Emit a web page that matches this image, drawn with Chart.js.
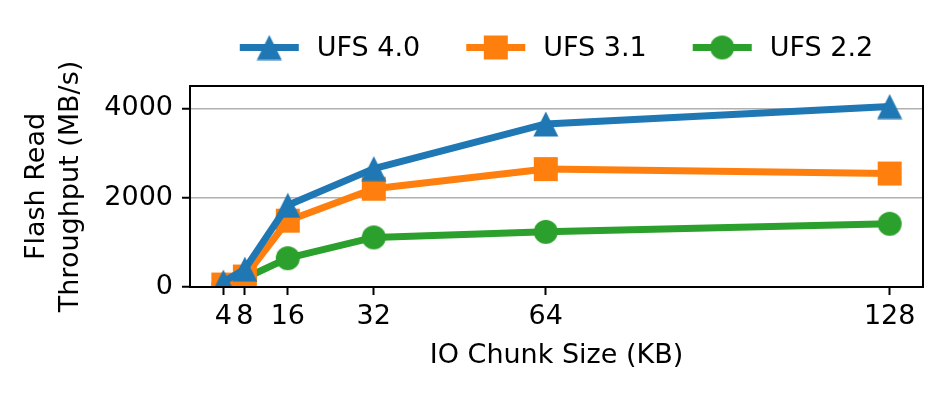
<!DOCTYPE html>
<html>
<head>
<meta charset="utf-8">
<script src="https://cdn.jsdelivr.net/npm/chart.js@4.4.1/dist/chart.umd.min.js"></script>
<style>
  html, body { margin: 0; padding: 0; background: #fff; }
  canvas { display: block; }
</style>
</head>
<body>
<canvas id="chart" width="947" height="395"></canvas>
<script>
// --- DATA ---
const chunkSizes = [4, 8, 16, 32, 64, 128];        // KB
const ufs40 = [110, 400, 1830, 2650, 3650, 4040];  // MB/s
const ufs31 = [55, 235, 1485, 2200, 2640, 2540];
const ufs22 = [30, 195, 645, 1110, 1235, 1415];
const xTicks = [4, 8, 16, 32, 64, 128];
const yTicks = [0, 2000, 4000];

const FONT = 'DejaVu Sans';
const BLUE = '#1f77b4', ORANGE = '#ff7f0e', GREEN = '#2ca02c';

// --- MARKERS (matplotlib-like shapes as images) ---
function makeMarker(shape, color) {
    const c = document.createElement('canvas');
    c.width = 26; c.height = 26;
    const g = c.getContext('2d');
    g.fillStyle = color;
    g.beginPath();
    if (shape === 'triangle') {
        g.moveTo(13, 0.5); g.lineTo(25.5, 25.5); g.lineTo(0.5, 25.5); g.closePath();
    } else if (shape === 'square') {
        g.rect(1, 1, 24, 24);
    } else {
        g.arc(13, 13, 12, 0, Math.PI * 2);
    }
    g.fill();
    return c;
}

function series(label, values, color, shape) {
    return {
        label: label,
        data: chunkSizes.map((x, i) => ({ x: x, y: values[i] })),
        borderColor: color,
        backgroundColor: color,
        borderWidth: 7,
        borderJoinStyle: 'round',
        pointStyle: makeMarker(shape, color),
        tension: 0
    };
}

// legend drawn like matplotlib: short line with marker, no frame
const lineLegend = {
    id: 'lineLegend',
    afterDraw(chart) {
        const ctx = chart.ctx;
        const area = chart.chartArea;
        const handle = 59, gapText = 18, gapItem = 46, y = 47.5;
        ctx.save();
        ctx.font = '27px "' + FONT + '"';
        const widths = chart.data.datasets.map(ds => ctx.measureText(ds.label).width);
        const total = widths.reduce((a, w) => a + handle + gapText + w, 0) + gapItem * (widths.length - 1);
        let x = (area.left + area.right) / 2 - total / 2;
        chart.data.datasets.forEach((ds, i) => {
            ctx.strokeStyle = ds.borderColor;
            ctx.lineWidth = 7;
            ctx.beginPath();
            ctx.moveTo(x, y); ctx.lineTo(x + handle, y);
            ctx.stroke();
            const img = ds.pointStyle;
            ctx.drawImage(img, x + handle / 2 - img.width / 2, y - img.height / 2);
            ctx.fillStyle = '#000';
            ctx.textBaseline = 'middle';
            ctx.textAlign = 'left';
            ctx.fillText(ds.label, x + handle + gapText, y + 1);
            x += handle + gapText + widths[i] + gapItem;
        });
        ctx.restore();
    }
};

// full axes frame on top of the lines
const frame = {
    id: 'frame',
    afterDatasetsDraw(chart) {
        const a = chart.chartArea;
        const ctx = chart.ctx;
        ctx.save();
        ctx.strokeStyle = '#000';
        ctx.lineWidth = 2;
        ctx.strokeRect(a.left, a.top, a.right - a.left, a.bottom - a.top);
        ctx.restore();
    }
};

Chart.defaults.font.family = FONT;
Chart.defaults.color = '#000';

new Chart(document.getElementById('chart'), {
    type: 'line',
    data: {
        datasets: [
            series('UFS 4.0', ufs40, BLUE, 'triangle'),
            series('UFS 3.1', ufs31, ORANGE, 'square'),
            series('UFS 2.2', ufs22, GREEN, 'circle')
        ]
    },
    options: {
        responsive: false,
        animation: false,
        events: [],
        devicePixelRatio: 1,
        layout: { padding: { top: 86, right: 24, left: 0, bottom: 0 } },
        plugins: { legend: { display: false }, tooltip: { enabled: false } },
        scales: {
            x: {
                type: 'linear',
                min: -2.2,
                max: 134.2,
                afterBuildTicks: s => { s.ticks = xTicks.map(v => ({ value: v })); },
                afterFit: s => { s.height = 108; },
                ticks: {
                    autoSkip: false,
                    maxRotation: 0,
                    padding: 6,
                    font: { size: 27 },
                    callback: v => String(v)
                },
                grid: {
                    drawOnChartArea: false,
                    tickLength: 8,
                    tickColor: '#000',
                    tickWidth: 2
                },
                border: { display: false },
                title: {
                    display: true,
                    text: 'IO Chunk Size (KB)',
                    font: { size: 27 },
                    padding: { top: 0, bottom: 23 }
                }
            },
            y: {
                min: 0,
                max: 4500,
                afterBuildTicks: s => { s.ticks = yTicks.map(v => ({ value: v })); },
                afterFit: s => { s.width = 190; },
                ticks: {
                    padding: 9,
                    font: { size: 27 },
                    callback: v => String(v)
                },
                grid: {
                    color: '#b0b0b0',
                    lineWidth: 1.5,
                    tickLength: 8,
                    tickColor: '#000',
                    tickWidth: 2
                },
                border: { display: false },
                title: {
                    display: true,
                    text: ['Flash Read', 'Throughput (MB/s)'],
                    font: { size: 27, lineHeight: 1.26 },
                    padding: { top: 20, bottom: 0 }
                }
            }
        }
    },
    plugins: [lineLegend, frame]
});
</script>
</body>
</html>
